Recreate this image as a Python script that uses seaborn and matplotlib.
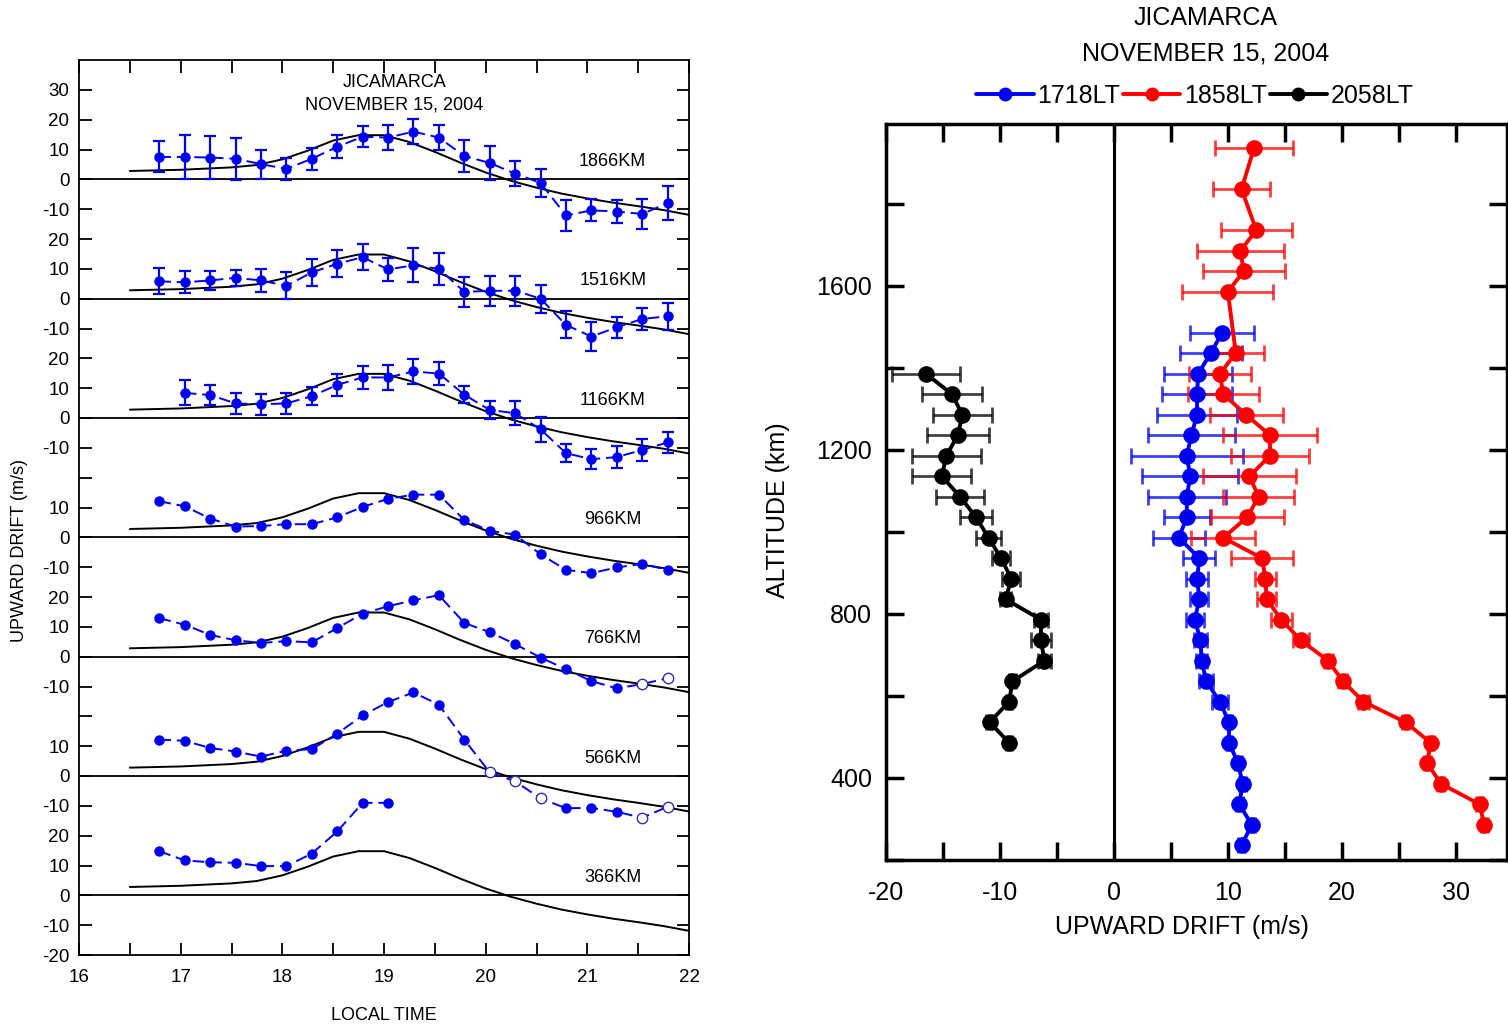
"""
Jicamarca vertical drifts, 15 Nov 2004.
Kiri: drift vs local time di tujuh ketinggian (ditumpuk), kanan: profil drift vs ketinggian.
"""

import numpy as np
import matplotlib
matplotlib.use("Agg")
import matplotlib.pyplot as plt
import seaborn as sns
from matplotlib.lines import Line2D
from matplotlib.ticker import MultipleLocator

nan = np.nan

# ---------------- left panel data ----------------
times = [16.79, 17.04, 17.29, 17.54, 17.79, 18.04, 18.29, 18.54, 18.79, 19.04, 19.29,
         19.54, 19.79, 20.04, 20.29, 20.54, 20.79, 21.04, 21.29, 21.54, 21.79]

model_t = [16.5, 17.0, 17.5, 17.75, 18.0, 18.25, 18.5, 18.75, 19.0, 19.25, 19.5,
           19.75, 20.0, 20.25, 20.5, 20.75, 21.0, 21.25, 21.5, 21.75, 22.0]
model_v = [2.8, 3.2, 4.0, 4.8, 6.7, 9.6, 13.0, 14.8, 14.8, 12.5, 9.2,
           5.6, 2.3, -0.5, -2.8, -4.8, -6.4, -7.8, -9.0, -10.3, -11.9]

heights = ["1866KM", "1516KM", "1166KM", "966KM", "766KM", "566KM", "366KM"]

drift_1866 = [7.5, 7.5, 7.3, 6.9, 5.1, 3.5, 6.9, 10.9, 14.3, 14.0, 16.0,
              14.0, 7.8, 5.5, 1.9, -1.2, -12.1, -10.4, -10.8, -11.6, -8.0]
err_1866 = [5.2, 7.5, 7.3, 7.1, 4.9, 3.7, 3.7, 3.9, 3.6, 4.3, 4.2,
            4.3, 5.4, 5.7, 4.1, 4.7, 5.2, 3.7, 3.9, 4.9, 5.6]

drift_1516 = [5.8, 5.5, 6.1, 7.0, 6.1, 4.3, 8.8, 11.7, 13.9, 9.8, 11.2,
              10.0, 2.3, 2.6, 2.7, 0.0, -8.8, -12.7, -9.6, -6.8, -5.9]
err_1516 = [4.4, 3.7, 3.1, 2.6, 3.9, 4.5, 4.5, 4.5, 4.3, 3.9, 5.7,
            5.4, 5.0, 5.0, 5.0, 4.7, 4.5, 5.0, 3.5, 3.7, 4.5]

drift_1166 = [nan, 8.4, 7.7, 4.9, 4.6, 4.9, 7.3, 11.1, 13.6, 13.6, 15.6,
              14.9, 7.8, 2.7, 1.6, -3.8, -11.8, -13.8, -13.1, -10.7, -8.2]
err_1166 = [nan, 4.2, 3.3, 3.6, 3.5, 3.5, 3.1, 3.7, 3.9, 4.3, 4.1,
            3.9, 2.9, 2.9, 4.1, 4.1, 3.1, 3.3, 3.6, 3.7, 3.6]

drift_966 = [12.1, 10.4, 6.3, 3.6, 3.8, 4.4, 4.4, 6.7, 10.2, 12.9, 14.3,
             14.3, 5.8, 2.2, 0.9, -5.7, -10.9, -12.0, -10.1, -8.9, -10.9]
drift_766 = [12.9, 10.7, 7.3, 5.5, 4.6, 5.2, 4.8, 9.6, 14.4, 16.9, 18.9,
             20.6, 11.3, 8.2, 4.2, -0.3, -4.2, -8.2, -10.6, -9.2, -7.2]
drift_566 = [12.2, 11.8, 9.4, 8.2, 6.5, 8.5, 9.0, 14.2, 20.3, 24.8, 28.0,
             23.9, 12.2, 1.2, -1.8, -7.5, -10.8, -10.7, -12.0, -14.0, -10.3]
drift_366 = [14.8, 11.7, 11.1, 10.9, 9.8, 9.8, 14.0, 21.4, 31.0, 31.0, nan,
             nan, nan, nan, nan, nan, nan, nan, nan, nan, nan]

# indeks titik berlubang (open circles)
open_766 = [19, 20]
open_566 = [13, 14, 15, 19, 20]

left_ticks = list(range(-20, 280, 10))
left_ticklabels = ["-20", "-10", "0", "10", "20", "-10", "0", "10", "", "-10",
                   "0", "10", "20", "-10", "0", "10", "", "-10", "0", "10",
                   "20", "-10", "0", "10", "20", "-10", "0", "10", "20", "30"]

# ---------------- right panel data ----------------
alt_1718 = [1486, 1436, 1386, 1336, 1286, 1236, 1186, 1136, 1086, 1036, 986, 936, 886,
            836, 786, 736, 686, 636, 586, 536, 486, 436, 386, 336, 286, 236]
drift_1718 = [9.5, 8.5, 7.4, 7.3, 7.3, 6.8, 6.4, 6.7, 6.4, 6.4, 5.7, 7.5, 7.3,
              7.5, 7.1, 7.6, 7.7, 8.1, 9.3, 10.1, 10.1, 10.9, 11.3, 11.0, 12.1, 11.2]
err_1718 = [2.8, 2.7, 3.0, 3.1, 3.5, 3.8, 4.9, 4.2, 3.4, 2.0, 2.3, 1.4, 1.0,
            0.8, 0.8, 0.6, 0.5, 0.6, 0.7, 0.3, 0.3, 0.3, 0.3, 0.3, 0.3, 0.3]

alt_1858 = [1936, 1836, 1736, 1686, 1636, 1586, 1436, 1386, 1336, 1286, 1236, 1186, 1136,
            1086, 1036, 986, 936, 886, 836, 786, 736, 686, 636, 586, 536, 486, 436,
            386, 336, 286]
drift_1858 = [12.3, 11.2, 12.5, 11.1, 11.4, 10.0, 10.7, 9.3, 9.6, 11.6, 13.7, 13.7, 11.9,
              12.7, 11.7, 9.6, 13.0, 13.3, 13.4, 14.7, 16.4, 18.8, 20.1, 21.9, 25.6, 27.8,
              27.5, 28.7, 32.1, 32.5]
err_1858 = [3.4, 2.5, 3.1, 3.8, 3.6, 4.0, 2.5, 2.7, 3.1, 3.2, 4.1, 3.4, 4.1,
            3.1, 3.2, 2.8, 2.7, 0.9, 0.8, 0.9, 0.7, 0.4, 0.4, 0.5, 0.3, 0.3,
            0.3, 0.3, 0.3, 0.3]

alt_2058 = [1386, 1336, 1286, 1236, 1186, 1136, 1086, 1036, 986, 936, 886, 836, 786,
            736, 686, 636, 586, 536, 486]
drift_2058 = [-16.5, -14.2, -13.3, -13.7, -14.7, -15.1, -13.5, -12.1, -11.0, -9.9, -9.0,
              -9.5, -6.4, -6.4, -6.1, -8.9, -9.2, -10.9, -9.2]
err_2058 = [3.0, 2.6, 2.6, 2.7, 3.0, 2.6, 2.1, 1.4, 1.1, 0.8, 0.8, 0.5, 0.6,
            0.9, 0.6, 0.3, 0.3, 0.3, 0.3]

profile_labels = ["1718LT", "1858LT", "2058LT"]

# ---------------- style ----------------
sns.set_theme(style="ticks")
plt.rcParams["font.family"] = ["Liberation Sans", "DejaVu Sans"]
plt.rcParams["axes.unicode_minus"] = False
for key in ["text.color", "axes.labelcolor", "xtick.color", "ytick.color", "axes.edgecolor"]:
    plt.rcParams[key] = "black"

BLUE = "#0000f0"
RED = "#ff0000"

fig = plt.figure(figsize=(15.08, 10.27), dpi=100)
ax = fig.add_axes([79 / 1508, 72 / 1027, 610 / 1508, 895 / 1027])
ax2 = fig.add_axes([886 / 1508, 167 / 1027, 621 / 1508, 736 / 1027])

# ---------------- left panel ----------------
series = [drift_1866, drift_1516, drift_1166, drift_966, drift_766, drift_566, drift_366]
errors = [err_1866, err_1516, err_1166, None, None, None, None]
hollow = [[], [], [], [], open_766, open_566, []]
bases = [240, 200, 160, 120, 80, 40, 0]

t = np.array(times)
for name, vals, err, opn, base in zip(heights, series, errors, hollow, bases):
    v = np.array(vals) + base
    ax.axhline(base, color="black", lw=1.3, zorder=2)
    sns.lineplot(x=model_t, y=np.array(model_v) + base, ax=ax, color="black",
                 lw=1.4, estimator=None, zorder=3)
    if err is not None:
        ax.errorbar(t, v, yerr=err, fmt="none", ecolor=BLUE, elinewidth=1.6,
                    capsize=4, capthick=1.6, zorder=4)
    sns.lineplot(x=t, y=v, ax=ax, color=BLUE, lw=1.4, linestyle=(0, (6, 3)),
                 marker="o", markersize=7.5, markeredgewidth=0, estimator=None, zorder=5)
    if opn:
        ax.plot(t[opn], v[opn], "o", ms=7.5, mfc="white", mec="#3030b0", mew=1.0,
                linestyle="none", zorder=6)
    ax.text(21.25, base + 6, name, fontsize=13, ha="center", va="center")

ax.set_xlim(16, 22)
ax.set_ylim(-20, 280)
ax.set_yticks(left_ticks)
ax.set_yticklabels(left_ticklabels)
ax.xaxis.set_major_locator(MultipleLocator(1))
ax.xaxis.set_minor_locator(MultipleLocator(0.5))
ax.tick_params(which="both", direction="in", length=9, width=1.3, top=True, right=True,
               labelsize=13.5, pad=7)
ax.tick_params(axis="x", pad=10)
ax.set_xlabel("")
ax.set_ylabel("")
for sp in ax.spines.values():
    sp.set_linewidth(1.3)
    sp.set_visible(True)

ax.text(19.1, 272.5, "JICAMARCA", fontsize=13, ha="center", va="center")
ax.text(19.1, 265.0, "NOVEMBER 15, 2004", fontsize=13, ha="center", va="center")
fig.text(20 / 1508, 1 - 550 / 1027, "UPWARD DRIFT (m/s)", rotation=90, fontsize=13,
         ha="center", va="center")
fig.text(384 / 1508, 1 - 1015 / 1027, "LOCAL TIME", fontsize=13, ha="center", va="center")

# ---------------- right panel ----------------
ax2.axvline(0, color="black", lw=2.2, zorder=1)
profiles = [(drift_1718, alt_1718, err_1718, BLUE),
            (drift_1858, alt_1858, err_1858, RED),
            (drift_2058, alt_2058, err_2058, "black")]
for drift, alt, err, col in profiles:
    ax2.errorbar(drift, alt, xerr=err, fmt="none", ecolor=col, elinewidth=2.0,
                 capsize=6, capthick=2.0, alpha=0.75, zorder=2)
    sns.lineplot(x=drift, y=alt, ax=ax2, orient="y", estimator=None, color=col, lw=2.8,
                 marker="o", markersize=12, markeredgewidth=0, zorder=3)

ax2.set_xlim(-20, 34.5)
ax2.set_ylim(200, 1995)
ax2.xaxis.set_major_locator(MultipleLocator(10))
ax2.xaxis.set_minor_locator(MultipleLocator(5))
ax2.yaxis.set_major_locator(MultipleLocator(400))
ax2.yaxis.set_minor_locator(MultipleLocator(200))
ax2.tick_params(which="both", direction="in", length=13, width=2.5, top=True, right=True,
                labelsize=18, pad=10)
ax2.tick_params(axis="x", pad=15)
ax2.set_xlabel("")
ax2.set_ylabel("")
for sp in ax2.spines.values():
    sp.set_linewidth(2.5)
    sp.set_visible(True)

fig.text(1206 / 1508, 1 - 18 / 1027, "JICAMARCA", fontsize=18, ha="center", va="center")
fig.text(1206 / 1508, 1 - 54 / 1027, "NOVEMBER 15, 2004", fontsize=18, ha="center",
         va="center")
fig.text(1182 / 1508, 1 - 927 / 1027, "UPWARD DRIFT (m/s)", fontsize=18, ha="center",
         va="center")
fig.text(778 / 1508, 1 - 510 / 1027, "ALTITUDE (km)", rotation=90, fontsize=18,
         ha="center", va="center")

handles = [Line2D([], [], color=c, lw=2.8, marker="o", ms=10, mew=0)
           for c in [BLUE, RED, "black"]]
fig.legend(handles, profile_labels, loc="center", bbox_to_anchor=(1195 / 1508, 1 - 96 / 1027),
           ncol=3, frameon=False, fontsize=18, handlelength=2.3, handletextpad=0.15,
           columnspacing=0.1, borderaxespad=0)

fig.savefig("out.png", dpi=100)
